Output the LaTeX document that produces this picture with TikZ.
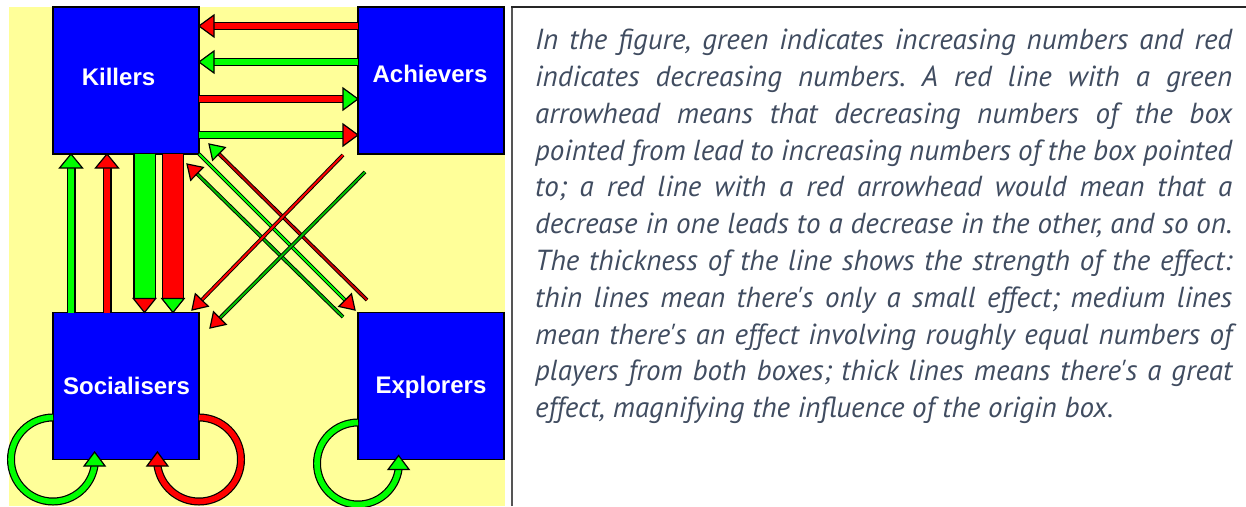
\documentclass[tikz,border=0pt]{standalone}
\usepackage{fontspec}
\setmainfont{Liberation Sans}
\newfontfamily\notefont{PT Sans}[Ligatures=TeXOff]
\usetikzlibrary{calc}
\definecolor{bgyellow}{RGB}{255,255,153}
\definecolor{boxblue}{RGB}{0,0,255}
\definecolor{agreen}{RGB}{0,255,0}
\definecolor{ared}{RGB}{255,0,0}
\definecolor{notegrey}{RGB}{64,76,96}
\definecolor{rulegrey}{RGB}{85,85,85}
\tikzset{
  playerbox/.style={draw=black, line width=1.8pt, fill=boxblue, minimum width=146pt, minimum height=147pt, inner sep=0pt, outer sep=0pt},
  playerlabel/.style={text=white, font=\fontsize{24}{24}\selectfont\bfseries, inner sep=0pt, anchor=base},
  shaftmedium/.style={draw=black, line width=1.2pt, double distance=5.6pt},
  shaftvert/.style={draw=black, line width=1.2pt, double distance=6.6pt},
  shaftthin/.style={draw=black, line width=0.9pt, double distance=2pt},
  shaftthick/.style={draw=black, line width=1.2pt, double distance=20pt},
  headline/.style={draw=black, line width=1.2pt, line join=miter},
}
\newcommand\tiphead[5]{%
  \coordinate (hbase) at ($(#1)!#4!(#2)$);
  \filldraw[headline, fill=#3] (#1) -- ($(hbase)!#5!90:(#1)$) -- ($(hbase)!#5!-90:(#1)$) -- cycle;
}
\newcommand\effect[7]{%
  \coordinate (hbase) at ($(#2)!#6!(#1)$);
  \draw[#3, double=#4] (#1) -- (hbase);
  \tiphead{#2}{#1}{#5}{#6}{#7}
}
\begin{document}
\begin{tikzpicture}[x=1pt, y=-1pt]
\useasboundingbox (0,0) rectangle (1246,506);
\fill[bgyellow] (9,7) rectangle (505,506);
\draw[rulegrey, line width=2pt] (512,506) -- (512,7);
\draw[black!85, line width=2pt] (511,7) -- (1246,7);

% boxes
\node[playerbox] (K) at (126,80.5) {};
\node[playerbox] (A) at (431,80.5) {};
\node[playerbox] (S) at (126,386) {};
\node[playerbox] (E) at (431,386) {};

% Killers <-> Achievers
\coordinate (ka1a) at ([yshift=-19pt]A.north west);
\coordinate (ka1k) at ([yshift=-19pt]K.north east);
\coordinate (ka2a) at ([yshift=-55pt]A.north west);
\coordinate (ka2k) at ([yshift=-55pt]K.north east);
\coordinate (ka3k) at ([yshift=-92pt]K.north east);
\coordinate (ka3a) at ([yshift=-92pt]A.north west);
\coordinate (ka4k) at ([yshift=-128pt]K.north east);
\coordinate (ka4a) at ([yshift=-128pt]A.north west);
\effect{ka1a}{ka1k}{shaftmedium}{ared}{ared}{15pt}{11pt}
\effect{ka2a}{ka2k}{shaftmedium}{agreen}{agreen}{15pt}{11pt}
\effect{ka3k}{ka3a}{shaftmedium}{ared}{agreen}{15pt}{11pt}
\effect{ka4k}{ka4a}{shaftmedium}{agreen}{ared}{15pt}{11pt}

% Killers <-> Socialisers
\coordinate (ks1s) at ([xshift=18pt]S.north west);
\coordinate (ks1k) at ([xshift=18pt]K.south west);
\coordinate (ks2s) at ([xshift=54pt]S.north west);
\coordinate (ks2k) at ([xshift=54pt]K.south west);
\coordinate (ks3k) at ([xshift=91.5pt]K.south west);
\coordinate (ks3s) at ([xshift=91.5pt]S.north west);
\coordinate (ks4k) at ([xshift=120pt]K.south west);
\coordinate (ks4s) at ([xshift=120pt]S.north west);
\effect{ks1s}{ks1k}{shaftvert}{agreen}{agreen}{14pt}{11.5pt}
\effect{ks2s}{ks2k}{shaftvert}{ared}{ared}{14pt}{11.5pt}
\effect{ks3k}{ks3s}{shaftthick}{agreen}{ared}{14pt}{11.2pt}
\effect{ks4k}{ks4s}{shaftthick}{ared}{agreen}{14pt}{11.2pt}

% diagonals
\coordinate (d3from) at (367,300);
\coordinate (d3tip) at (209,144);
\coordinate (d1from) at (343,317);
\coordinate (d1tip) at (187,164);
\coordinate (d2tip) at (355,310);
\coordinate (u1from) at (343,155);
\coordinate (u1tip) at (192,310);
\coordinate (u2from) at (365,172);
\coordinate (u2tip) at (210,328);
\effect{d1from}{d1tip}{shaftthin}{agreen!75!black}{ared}{14pt}{9pt}
\effect{K.south east}{d2tip}{shaftthin}{agreen}{ared}{14pt}{9pt}
\effect{d3from}{d3tip}{shaftthin}{ared!80!black}{agreen}{14pt}{9pt}
\effect{u1from}{u1tip}{shaftthin}{ared}{ared}{14pt}{9pt}
\effect{u2from}{u2tip}{shaftthin}{agreen!75!black}{ared}{14pt}{9pt}

% self loops
\coordinate (sgstart) at ([yshift=-105pt]S.north west);
\coordinate (srstart) at ([yshift=-105pt]S.north east);
\coordinate (egstart) at ([yshift=-110pt]E.north west);
\coordinate (sgtip) at (94.6,452);
\coordinate (sgback) at (94.6,472);
\coordinate (srtip) at (157.4,452);
\coordinate (srback) at (157.4,472);
\coordinate (egtip) at (398.6,455.5);
\coordinate (egback) at (398.6,475);
\draw[shaftmedium, double=agreen] (sgstart) arc[start angle=90, end angle=352, radius=42pt];
\draw[shaftmedium, double=ared] (srstart) arc[start angle=90, end angle=-172, radius=42pt];
\draw[shaftmedium, double=agreen] (egstart) arc[start angle=90, end angle=352, radius=41pt];
\tiphead{sgtip}{sgback}{agreen}{14pt}{10.5pt}
\tiphead{srtip}{srback}{ared}{14pt}{10.5pt}
\tiphead{egtip}{egback}{agreen}{14pt}{10.5pt}

% labels
\node[playerlabel] (Klab) at (118.5,85) {Killers};
\node[playerlabel] (Alab) at (430,82) {Achievers};
\node[playerlabel] (Slab) at (126.5,394) {Socialisers};
\node[playerlabel] (Elab) at (431,393) {Explorers};

% note
\node[anchor=north west, inner sep=0pt, align=left, text=notegrey,
      font=\notefont\itshape\fontsize{29}{36.8}\selectfont\frenchspacing] (note) at (535,29) {%
\makebox[697pt][s]{In the figure, green indicates increasing numbers and red}\\
\makebox[697pt][s]{indicates decreasing numbers. A red line with a green}\\
\makebox[697pt][s]{arrowhead means that decreasing numbers of the box}\\
\makebox[697pt][s]{pointed from lead to increasing numbers of the box pointed}\\
\makebox[697pt][s]{to; a red line with a red arrowhead would mean that a}\\
\makebox[697pt][s]{decrease in one leads to a decrease in the other, and so on.}\\
\makebox[697pt][s]{The thickness of the line shows the strength of the effect:}\\
\makebox[697pt][s]{thin lines mean there's only a small effect; medium lines}\\
\makebox[697pt][s]{mean there's an effect involving roughly equal numbers of}\\
\makebox[697pt][s]{players from both boxes; thick lines means there's a great}\\
effect, magnifying the influence of the origin box.};
\end{tikzpicture}
\end{document}
